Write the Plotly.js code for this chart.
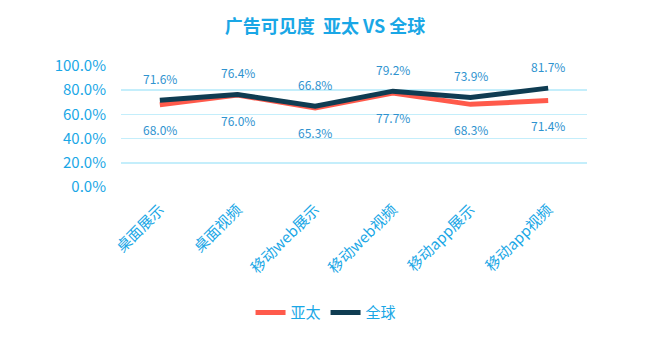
<!DOCTYPE html>
<html><head><meta charset="utf-8">
<script src="https://cdn.plot.ly/plotly-3.0.1.min.js"></script>
<style>html,body{margin:0;padding:0;background:#fff;}#chart{width:654px;height:354px;}</style>
</head><body><div id="chart"></div>
<script>
const categories = ['桌面展示','桌面视频','移动web展示','移动web视频','移动app展示','移动app视频'];
const asiaPacific = [68.0, 76.0, 65.3, 77.7, 68.3, 71.4];
const globalVals = [71.6, 76.4, 66.8, 79.2, 73.9, 81.7];
const seriesNames = ['亚太','全球'];
const yTicks = [0,20,40,60,80,100];
const yTickLabels = ['0.0%','20.0%','40.0%','60.0%','80.0%','100.0%'];

const FONT = '"Noto Sans CJK SC", "Noto Sans", sans-serif';
const BLUE = '#1aa7e6';
const LABEL = '#2f93cf';

const traces = [
  {x: categories, y: asiaPacific, name: seriesNames[0], type:'scatter', mode:'lines',
   line:{color:'#ff5a4b', width:5}, hoverinfo:'skip'},
  {x: categories, y: globalVals, name: seriesNames[1], type:'scatter', mode:'lines',
   line:{color:'#0f3c52', width:5}, hoverinfo:'skip'}
];

const annotations = [];
categories.forEach((c,i)=>{
  annotations.push({x:c, y:globalVals[i], text: globalVals[i].toFixed(1)+'%', showarrow:false,
    yshift:22, font:{family:FONT, size:12, color:LABEL}});
  annotations.push({x:c, y:asiaPacific[i], text: asiaPacific[i].toFixed(1)+'%', showarrow:false,
    yshift:-25, font:{family:FONT, size:12, color:LABEL}});
});

const layout = {
  width:654, height:354,
  margin:{l:121, r:67, t:66, b:167},
  paper_bgcolor:'#fff', plot_bgcolor:'#fff',
  font:{family:FONT, color:BLUE},
  title:{text:'<b>广告可见度&nbsp;&nbsp;亚太 VS 全球</b>', font:{family:FONT, size:18, color:BLUE},
    x:0.497, xanchor:'center', y:0.925, yanchor:'middle'},
  xaxis:{type:'category', range:[-0.5, categories.length-0.5], tickangle:-45,
    tickfont:{family:FONT, size:15, color:BLUE},
    showgrid:false, zeroline:false, showline:false, ticks:'', ticklabelstandoff:10},
  yaxis:{range:[0,100], tickmode:'array', tickvals:yTicks, ticktext:yTickLabels,
    tickfont:{family:FONT, size:15, color:BLUE}, gridcolor:'#c4eefb', gridwidth:1.5,
    zeroline:false, showline:false, ticks:'', ticklabelstandoff:14, fixedrange:true},
  showlegend:true,
  legend:{orientation:'h', x:0.44, xanchor:'center', y:-1.04, yanchor:'middle',
    font:{family:FONT, size:15, color:BLUE}, tracegroupgap:0},
  annotations: annotations
};

Plotly.newPlot('chart', traces, layout, {displayModeBar:false, staticPlot:true});
</script>
</body></html>
